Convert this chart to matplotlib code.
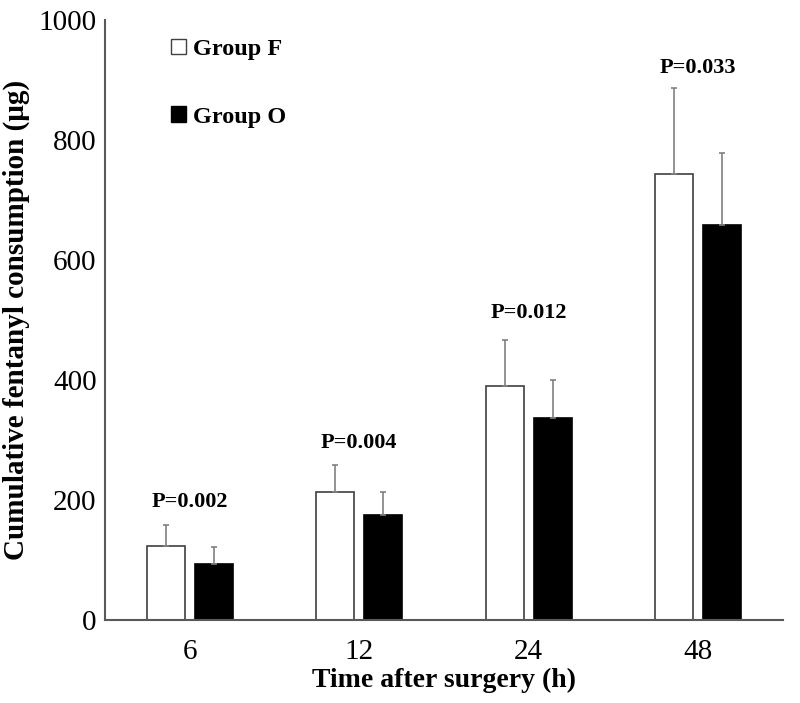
import numpy as np
import matplotlib
matplotlib.use('Agg')
import matplotlib.pyplot as plt
from matplotlib.patches import Patch

# data
times = ['6', '12', '24', '48']
group_f = [123, 213, 390, 744]
group_o = [94, 175, 337, 659]
sd_f = [35, 46, 76, 142]
sd_o = [27, 38, 63, 119]
p_labels = ['P=0.002', 'P=0.004', 'P=0.012', 'P=0.033']
p_y = [197, 295, 512, 920]

plt.rcParams['font.family'] = ['Liberation Serif', 'DejaVu Serif']

fig = plt.figure(figsize=(8, 7.03), dpi=100)
ax = fig.add_axes([0.13125, 0.1181, 0.8475, 0.8535])

x = np.arange(len(times))
w = 0.226
off = 0.142
err_kw = dict(ecolor='#808080', elinewidth=1.2, capsize=2.3, capthick=1.2)

ax.bar(x - off, group_f, w, color='white', edgecolor='#404040', linewidth=1.2,
       yerr=[np.zeros(4), sd_f], error_kw=err_kw, label='Group F')
ax.bar(x + off, group_o, w, color='black', edgecolor='black', linewidth=1.2,
       yerr=[np.zeros(4), sd_o], error_kw=err_kw, label='Group O')

for xi, txt, yy in zip(x, p_labels, p_y):
    ax.text(xi, yy, txt, ha='center', va='center', fontsize=16, fontweight='bold')

ax.set_xlim(-0.5, len(times) - 0.5)
ax.set_ylim(0, 1000)
ax.set_yticks(range(0, 1001, 200))
ax.set_xticks(x)
ax.set_xticklabels(times)
ax.tick_params(length=0, labelsize=21)
ax.tick_params(axis='x', pad=14)
ax.tick_params(axis='y', pad=6)

for s in ['top', 'right']:
    ax.spines[s].set_visible(False)
for s in ['left', 'bottom']:
    ax.spines[s].set_color('#595959')
    ax.spines[s].set_linewidth(1.5)

ax.set_xlabel('Time after surgery (h)', fontsize=20, fontweight='bold', labelpad=2)
ax.set_ylabel('Cumulative fentanyl consumption (\u03bcg)', fontsize=21, fontweight='bold')
ax.yaxis.set_label_coords(-0.11, 0.5)

handles = [Patch(facecolor='white', edgecolor='#404040', linewidth=1.0),
           Patch(facecolor='black', edgecolor='black', linewidth=1.0)]
ax.legend(handles, ['Group F', 'Group O'], loc='upper left', bbox_to_anchor=(0.065, 1.005),
          frameon=False, prop={'size': 17.5, 'weight': 'bold'},
          handlelength=0.6, handleheight=0.6, handletextpad=0.3, labelspacing=1.9)

fig.savefig('out.png', dpi=100)
